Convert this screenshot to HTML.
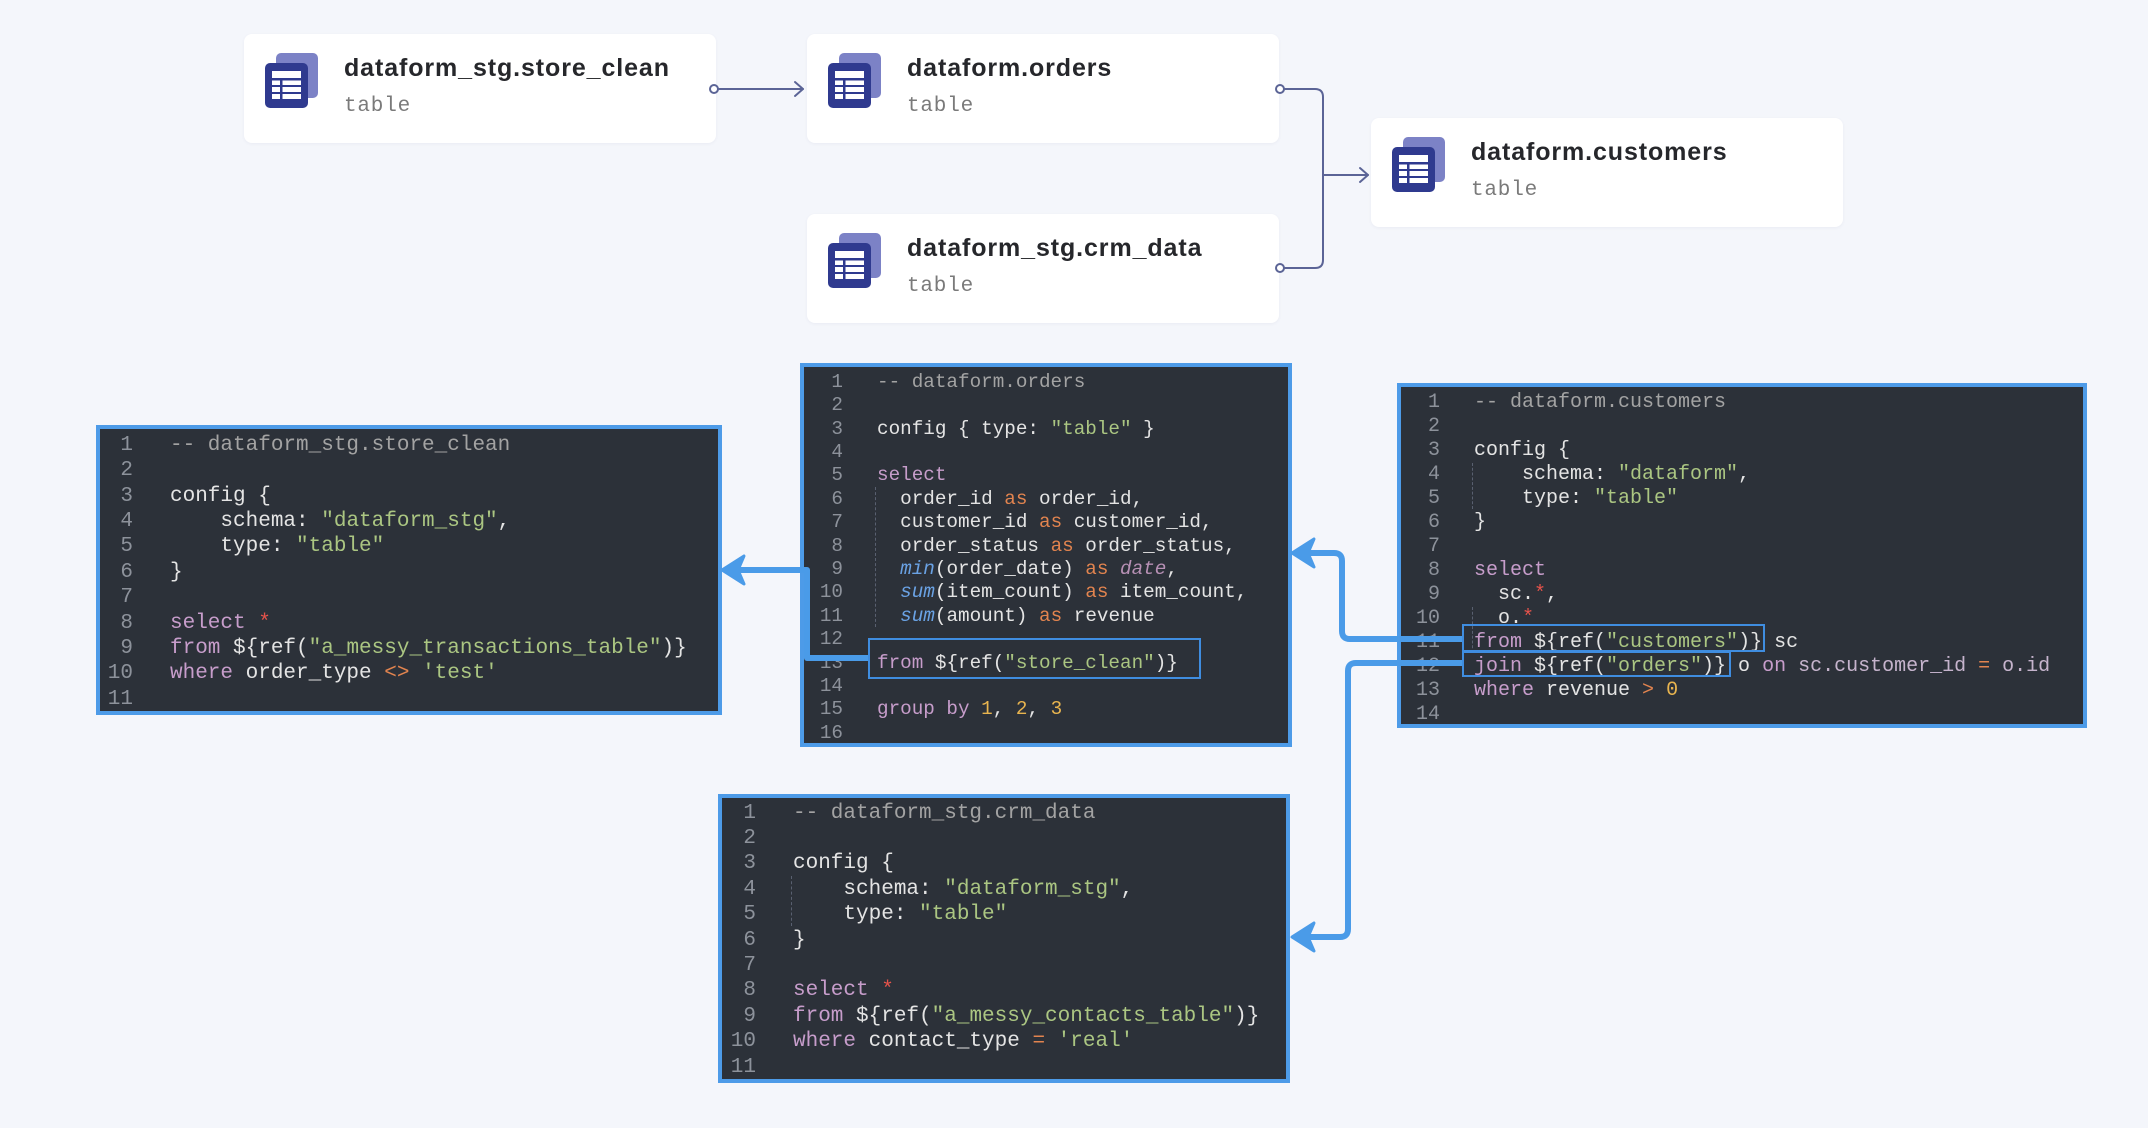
<!DOCTYPE html>
<html><head><meta charset="utf-8">
<style>
*{margin:0;padding:0;box-sizing:border-box}
html,body{width:2148px;height:1128px;overflow:hidden;background:#f4f6fb}
body{position:relative;font-family:"Liberation Sans",sans-serif}
.card{position:absolute;width:472px;height:109px;background:#fff;border-radius:8px;box-shadow:0 1px 3px rgba(60,70,120,0.06)}
.card .icon{position:absolute;left:21px;top:19px}
.card .t{position:absolute;left:100px;top:20px;font-size:25px;font-weight:bold;color:#26272b;letter-spacing:0.9px;white-space:nowrap}
.card .s{position:absolute;left:100px;top:61px;font-family:"Liberation Mono",monospace;font-size:21px;color:#7a7a7a;letter-spacing:0.8px}
.blk{position:absolute;background:#2c3139;border:4px solid #4d9be8;font-family:"Liberation Mono","DejaVu Sans Mono",monospace;color:#e4e4e4}
.blk .n{position:absolute;left:0;text-align:right;color:#8d929b;white-space:pre}
.blk .c{position:absolute;white-space:pre}
.cm{color:#a3a3a3}.k{color:#c79dcb}.as{color:#e2844f}.st{color:#abc682}.nu{color:#e8b44f}.sr{color:#e5534b}
.op{color:#e2844f}.fn{color:#6aa2e4;font-style:italic}.dt{color:#b790b5;font-style:italic}.lv{color:#c6b4cd}
.hl{position:absolute;border:2px solid #3f8de0}
.g{position:absolute;border-left:1px dashed #596070}
</style></head><body>

<svg width="0" height="0" style="position:absolute">
<defs>
<g id="ic">
<rect x="11" y="0" width="42" height="45" rx="5" fill="#7c82c6"/>
<rect x="0" y="10" width="43" height="45" rx="5" fill="#2f3a8f"/>
<rect x="7" y="18" width="29" height="28" fill="#fff"/>
<rect x="7" y="25" width="29" height="2.5" fill="#2f3a8f"/>
<rect x="15" y="25" width="2.5" height="21" fill="#2f3a8f"/>
<rect x="7" y="32" width="29" height="2" fill="#2f3a8f"/>
<rect x="7" y="39" width="29" height="2" fill="#2f3a8f"/>
</g>
</defs>
</svg>

<div class="card" style="left:244px;top:34px">
<svg class="icon" width="56" height="58"><use href="#ic"/></svg>
<div class="t">dataform_stg.store_clean</div><div class="s">table</div></div>
<div class="card" style="left:807px;top:34px">
<svg class="icon" width="56" height="58"><use href="#ic"/></svg>
<div class="t">dataform.orders</div><div class="s">table</div></div>
<div class="card" style="left:807px;top:214px">
<svg class="icon" width="56" height="58"><use href="#ic"/></svg>
<div class="t">dataform_stg.crm_data</div><div class="s">table</div></div>
<div class="card" style="left:1371px;top:118px">
<svg class="icon" width="56" height="58"><use href="#ic"/></svg>
<div class="t">dataform.customers</div><div class="s">table</div></div>

<!-- store_clean code -->
<div class="blk" style="left:96px;top:425px;width:626px;height:290px;font-size:21px;line-height:25.4px">
<div class="n" style="top:3.8px;width:33px">1
2
3
4
5
6
7
8
9
10
11</div>
<div class="c" style="top:3.8px;left:70px"><span class="cm">-- dataform_stg.store_clean</span>

config {
    schema: <span class="st">"dataform_stg"</span>,
    type: <span class="st">"table"</span>
}

<span class="k">select</span> <span class="sr">*</span>
<span class="k">from</span> ${ref(<span class="st">"a_messy_transactions_table"</span>)}
<span class="k">where</span> order_type <span class="op">&lt;&gt;</span> <span class="st">'test'</span>
</div>
</div>

<!-- orders code -->
<div class="blk" style="left:800px;top:363px;width:492px;height:384px;font-size:19.3px;line-height:23.4px">
<div class="g" style="left:71px;top:120px;height:140px"></div>
<div class="n" style="top:3.8px;width:39px">1
2
3
4
5
6
7
8
9
10
11
12
13
14
15
16</div>
<div class="c" style="top:3.8px;left:73px"><span class="cm">-- dataform.orders</span>

config { type: <span class="st">"table"</span> }

<span class="k">select</span>
  order_id <span class="as">as</span> order_id,
  customer_id <span class="as">as</span> customer_id,
  order_status <span class="as">as</span> order_status,
  <span class="fn">min</span>(order_date) <span class="as">as</span> <span class="dt">date</span>,
  <span class="fn">sum</span>(item_count) <span class="as">as</span> item_count,
  <span class="fn">sum</span>(amount) <span class="as">as</span> revenue

<span class="k">from</span> ${ref(<span class="st">"store_clean"</span>)}

<span class="k">group by</span> <span class="nu">1</span>, <span class="nu">2</span>, <span class="nu">3</span>
</div>
</div>

<!-- customers code -->
<div class="blk" style="left:1397px;top:383px;width:690px;height:345px;font-size:20px;line-height:24px">
<div class="g" style="left:71px;top:76px;height:46px"></div>
<div class="g" style="left:71px;top:220px;height:46px"></div>
<div class="n" style="top:4px;width:39px">1
2
3
4
5
6
7
8
9
10
11
12
13
14</div>
<div class="c" style="top:4px;left:73px"><span class="cm">-- dataform.customers</span>

config {
    schema: <span class="st">"dataform"</span>,
    type: <span class="st">"table"</span>
}

<span class="k">select</span>
  sc.<span class="sr">*</span>,
  o.<span class="sr">*</span>
<span class="k">from</span> ${ref(<span class="st">"customers"</span>)} sc
<span class="k">join</span> ${ref(<span class="st">"orders"</span>)} o <span class="k">on</span> <span class="lv">sc.customer_id</span> <span class="op">=</span> <span class="lv">o.id</span>
<span class="k">where</span> revenue <span class="op">&gt;</span> <span class="nu">0</span>
</div>
</div>

<!-- crm code -->
<div class="blk" style="left:718px;top:794px;width:572px;height:289px;font-size:21px;line-height:25.4px">
<div class="g" style="left:69px;top:78px;height:50px"></div>
<div class="n" style="top:2.6px;width:34px">1
2
3
4
5
6
7
8
9
10
11</div>
<div class="c" style="top:2.6px;left:71px"><span class="cm">-- dataform_stg.crm_data</span>

config {
    schema: <span class="st">"dataform_stg"</span>,
    type: <span class="st">"table"</span>
}

<span class="k">select</span> <span class="sr">*</span>
<span class="k">from</span> ${ref(<span class="st">"a_messy_contacts_table"</span>)}
<span class="k">where</span> contact_type <span class="op">=</span> <span class="st">'real'</span>
</div>
</div>

<!-- highlight boxes -->
<div class="hl" style="left:868px;top:638px;width:333px;height:41px"></div>
<div class="hl" style="left:1462px;top:624px;width:303px;height:28px"></div>
<div class="hl" style="left:1462px;top:651px;width:269px;height:26px"></div>

<!-- connectors -->
<svg width="2148" height="1128" style="position:absolute;left:0;top:0;pointer-events:none">
<g fill="none" stroke="#5b6496" stroke-width="2" stroke-linecap="round" stroke-linejoin="round">
<line x1="718" y1="89" x2="803" y2="89"/>
<polyline points="795,82 803,89 795,96"/>
<path d="M1284 89 L1315 89 Q1323 89 1323 97 L1323 260 Q1323 268 1315 268 L1284 268"/>
<line x1="1323" y1="175" x2="1368" y2="175"/>
<polyline points="1360,168 1368,175 1360,182"/>
</g>
<g fill="#fff" stroke="#5b6496" stroke-width="2">
<circle cx="714" cy="89" r="4"/>
<circle cx="1280" cy="89" r="4"/>
<circle cx="1280" cy="268" r="4"/>
</g>
<g fill="none" stroke="#4a9be8" stroke-width="6" stroke-linejoin="round">
<path d="M868 658 L807 658 L807 570 L730 570"/>
<path d="M1462 639 L1350 639 Q1342 639 1342 631 L1342 561 Q1342 553 1334 553 L1300 553"/>
<path d="M1462 663 L1356 663 Q1348 663 1348 671 L1348 929 Q1348 937 1340 937 L1300 937"/>
</g>
<g fill="#4a9be8" stroke="#4a9be8" stroke-width="3" stroke-linejoin="round">
<path d="M722 570 L744 556 L738 570 L744 584 Z"/>
<path d="M1292 553 L1314 539 L1308 553 L1314 567 Z"/>
<path d="M1292 937 L1314 923 L1308 937 L1314 951 Z"/>
</g>
</svg>
</body></html>
